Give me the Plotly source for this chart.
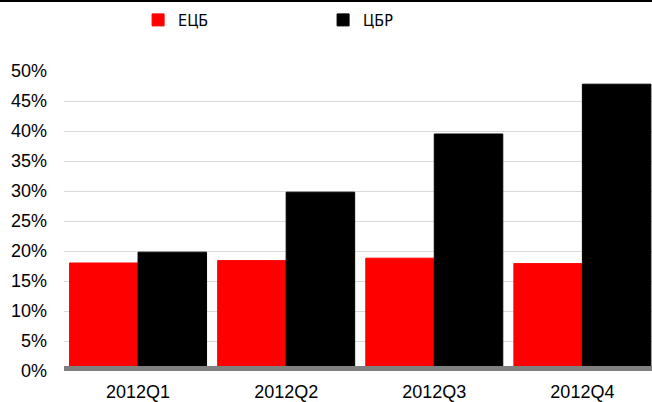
import plotly.graph_objects as go

categories = ["2012Q1", "2012Q2", "2012Q3", "2012Q4"]
ecb_values = [18.0, 18.4, 18.8, 17.9]
cbr_values = [19.8, 29.8, 39.5, 47.8]
series_names = ["ЕЦБ", "ЦБР"]
y_ticks = [0, 5, 10, 15, 20, 25, 30, 35, 40, 45, 50]
y_tick_labels = [f"{v}%" for v in y_ticks]

W, H = 652, 402
L, R, T, B = 64, 0, 71, 31
plot_h = H - T - B

fig = go.Figure()
fig.add_trace(go.Bar(x=categories, y=ecb_values, name=series_names[0],
                     marker=dict(color="#ff0000", line=dict(color="#ff0000", width=1))))
fig.add_trace(go.Bar(x=categories, y=cbr_values, name=series_names[1],
                     marker=dict(color="#000000", line=dict(color="#000000", width=1))))

font = "Liberation Sans, Arial, sans-serif"
fig.update_layout(
    width=W, height=H,
    margin=dict(l=L, r=R, t=T, b=B, pad=0),
    paper_bgcolor="white", plot_bgcolor="white",
    barmode="group", bargap=0.075, bargroupgap=0,
    font=dict(family=font, size=18, color="#000000"),
    showlegend=True,
    legend=dict(orientation="h", x=0.126, xanchor="left", y=1.0 + (T - 20) / plot_h,
                yanchor="middle", font=dict(family="DejaVu Sans Condensed, DejaVu Sans, sans-serif", size=16, color="#000000"),
                entrywidth=140, entrywidthmode="pixels", bgcolor="rgba(0,0,0,0)",
                itemclick=False, tracegroupgap=0),
    xaxis=dict(range=[-0.5, 3.47], showgrid=False, showline=False, ticks="",
               tickfont=dict(size=18), ticklabelstandoff=8, fixedrange=True),
    yaxis=dict(range=[0, 50], tickvals=y_ticks, ticktext=y_tick_labels, showgrid=True,
               gridcolor="#d9d9d9", gridwidth=1, zeroline=False, showline=False,
               ticks="", tickfont=dict(size=18), ticklabelstandoff=16, fixedrange=True),
)

# thick grey base line at 0
fig.add_shape(type="rect", xref="paper", yref="y", x0=0, x1=1,
              ysizemode="pixel", yanchor=0, y0=-2, y1=5,
              fillcolor="#808080", line=dict(width=0), layer="above")
# black line at top edge of the picture
fig.add_shape(type="line", xref="paper", yref="paper", x0=-L / (W - L - R), x1=1,
              y0=1 + (T - 1) / plot_h, y1=1 + (T - 1) / plot_h,
              line=dict(color="#000000", width=2))

fig.write_html("out.html")
